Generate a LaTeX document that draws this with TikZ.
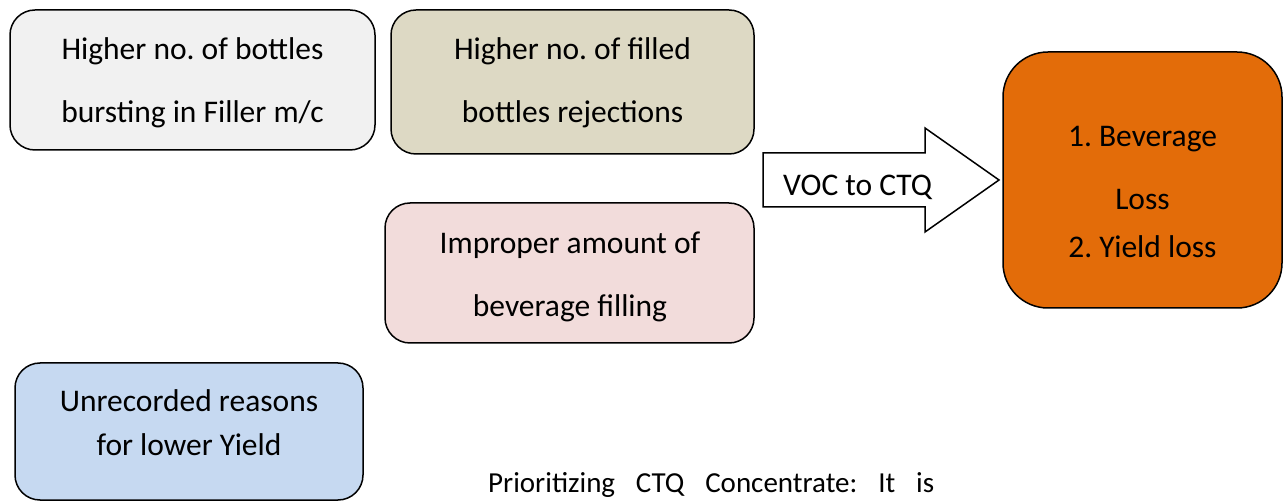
\documentclass[tikz,border=0pt]{standalone}
\usepackage{fontspec}
\setmainfont{Carlito}
\definecolor{cgray}{HTML}{F1F1F1}
\definecolor{ctan}{HTML}{DDD9C4}
\definecolor{cpink}{HTML}{F2DCDB}
\definecolor{cblue}{HTML}{C6D9F1}
\definecolor{corange}{HTML}{E36C09}
\tikzset{
  rbox/.style={draw=black, line width=1.5pt, rounded corners=25pt},
  txt/.style={anchor=base, inner sep=0pt, font=\fontsize{31.5}{36}\selectfont},
}
\begin{document}
\frenchspacing
\begin{tikzpicture}[x=1pt, y=-1pt]
\useasboundingbox (0,0) rectangle (1283,502);
% boxes
\node[rbox, fill=cgray, minimum width=365pt, minimum height=140pt] (b1) at (192.5,80) {};
\node[rbox, fill=ctan, minimum width=363pt, minimum height=144pt] (b2) at (572.5,82) {};
\node[rbox, fill=cpink, minimum width=369pt, minimum height=140pt] (b3) at (569.5,273) {};
\node[rbox, fill=cblue, minimum width=348pt, minimum height=137pt] (b4) at (189,431.5) {};
\node[rbox, rounded corners=45pt, fill=corange, minimum width=279pt, minimum height=256pt] (b5) at (1142.5,180) {};
% texts
\node[txt] (t1a) at (192.5,60) {Higher no. of bottles};
\node[txt] (t1b) at (192.5,123) {bursting in Filler m/c};
\node[txt] (t2a) at (572.5,60) {Higher no. of filled};
\node[txt] (t2b) at (572.5,123) {bottles rejections};
\node[txt] (t3a) at (570,254) {Improper amount of};
\node[txt] (t3b) at (570,317) {beverage filling};
\node[txt] (t4a) at (189,412) {Unrecorded reasons};
\node[txt] (t4b) at (189,456) {for lower Yield};
\node[txt] (t5a) at (1142.5,147) {1. Beverage};
\node[txt] (t5b) at (1142.5,210) {Loss};
\node[txt] (t5c) at (1142.5,258) {2. Yield loss};
% block arrow
\draw[line width=1.5pt, fill=white, line join=miter]
  (763,153) -- (925,153) -- (925,128) -- (999,180) -- (925,232) -- (925,207) -- (763,207) -- cycle;
\node[txt, anchor=base west] (voc) at (783,196) {VOC to CTQ};
% bottom text
\node[txt, anchor=base west, font=\fontsize{29}{34}\selectfont] (prio) at (488,493) {\makebox[446pt][s]{Prioritizing CTQ Concentrate: It is}};
\end{tikzpicture}
\end{document}
